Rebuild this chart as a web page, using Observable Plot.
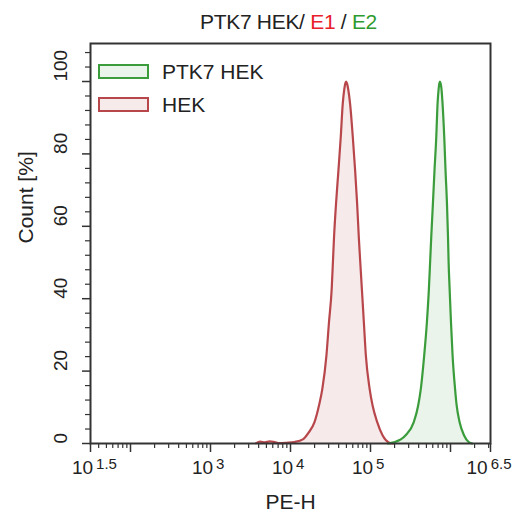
<!DOCTYPE html>
<html>
<head>
<meta charset="utf-8">
<script src="https://cdn.jsdelivr.net/npm/d3@7"></script>
<script src="https://cdn.jsdelivr.net/npm/@observablehq/plot@0.6"></script>
<style>
  body { margin: 0; background: #fff; font-family: "Liberation Sans", Arial, sans-serif; }
  #wrap { position: relative; width: 517px; height: 521px; overflow: hidden; }
  #title { position: absolute; left: 60px; right: 0; top: 0; text-align: center; font-size: 21px; line-height: 44px; color: #222; white-space: pre; letter-spacing: -0.3px; }
  .leg { position: absolute; left: 98px; height: 15px; display: flex; align-items: center; font-size: 21px; color: #222; white-space: pre; }
  .sw { width: 47px; height: 11px; border: 2px solid; margin-right: 13px; }
</style>
</head>
<body>
<div id="wrap">
  <div id="chart"></div>
  <div id="title"></div>
  <div id="legend"></div>
</div>
<script>
// ---- data ----
const titleParts = ["PTK7 HEK/ ", "E1", " / ", "E2"];
const seriesNames = ["PTK7 HEK", "HEK"];

// HEK (red): log10(PE-H) and Count [%]
const hekLog   = [3.57, 3.62, 3.68, 3.74, 3.80, 3.86, 3.95, 4.05, 4.16, 4.22, 4.30, 4.356, 4.398, 4.449, 4.481, 4.515, 4.531, 4.544, 4.569, 4.599, 4.628, 4.653, 4.672, 4.684, 4.695, 4.707, 4.722, 4.745, 4.779, 4.808, 4.833, 4.854, 4.871, 4.892, 4.917, 4.942, 4.989, 5.026, 5.084, 5.152, 5.227, 5.28];
const hekCount = [0.1, 0.5, 0.3, 0.6, 0.4, 0.1, 0.2, 0.4, 1.2, 2.8, 5.9, 10.5, 15.1, 24.3, 33.5, 42.7, 50.5, 56.9, 66.2, 75.4, 84.6, 93.8, 97.8, 99.4, 100, 99.4, 97.8, 93.8, 84.6, 75.4, 66.2, 56.9, 50.5, 42.7, 33.5, 24.3, 15.1, 10.5, 5.9, 2.2, 0.3, 0];

// PTK7 HEK (green)
const ptkLog   = [5.22, 5.29, 5.436, 5.541, 5.596, 5.629, 5.671, 5.705, 5.730, 5.746, 5.759, 5.780, 5.800, 5.822, 5.838, 5.852, 5.861, 5.868, 5.876, 5.887, 5.901, 5.922, 5.938, 5.956, 5.969, 5.976, 5.989, 6.006, 6.026, 6.057, 6.077, 6.114, 6.170, 6.232, 6.27];
const ptkCount = [0, 0.3, 2.2, 5.9, 10.5, 15.1, 24.3, 33.5, 42.7, 50.5, 56.9, 66.2, 75.4, 84.6, 93.8, 98.0, 99.5, 100, 99.5, 98.0, 93.8, 84.6, 75.4, 66.2, 56.9, 50.5, 42.7, 33.5, 24.3, 15.1, 10.5, 5.9, 2.2, 0.3, 0];

const yMajorTicks = [0, 20, 40, 60, 80, 100];
const yMinorTicks = [4, 8, 12, 16, 24, 28, 32, 36, 44, 48, 52, 56, 64, 68, 72, 76, 84, 88, 92, 96, 104, 108];
const xMajorExps  = [1.5, 2, 3, 4, 5, 6, 6.5];
const xLabelExps  = [1.5, 3, 4, 5, 6.5];
const xLabelTexts = ["1.5", "3", "4", "5", "6.5"];
const xMinorMultipliers = [2, 3, 4, 5, 6, 7, 8, 9];
const xDecades = [1, 2, 3, 4, 5, 6];

// ---- styles ----
const redStroke = "#b8474c", redFill = "#f7eaea";
const greenStroke = "#3a9c3a", greenFill = "#eaf4ea";
const axisColor = "#333";
const seriesStroke = [greenStroke, redStroke];
const seriesFill = [greenFill, redFill];

// ---- build ----
const xDomain = [10 ** 1.5, 10 ** 6.5];
const hek = hekLog.map((l, i) => ({x: 10 ** l, y: hekCount[i]}));
const ptk = ptkLog.map((l, i) => ({x: 10 ** l, y: ptkCount[i]}));
const xMajor = xMajorExps.map(e => 10 ** e);
const xMinor = xDecades.flatMap(d => xMinorMultipliers.map(m => m * 10 ** d))
  .filter(v => v > xDomain[0] && v < xDomain[1]);

const baseFont = 19, expFont = 15;
const charW = c => (c === "." ? 0.278 : 0.556);
const labelMarks = xLabelExps.flatMap((e, i) => {
  const baseW = 1.112 * baseFont;
  const expW = [...xLabelTexts[i]].reduce((s, c) => s + charW(c) * expFont, 0) + 2;
  let left = -8 - baseW / 2;                  // "10" centred a little left of the tick
  const tickPx = 90 + (e - 1.5) * 80;
  const over = tickPx + left + baseW + 3 + expW - 513;   // keep the last label inside the page
  if (over > 0) left -= over;
  return [
    Plot.text([e], {x: d => 10 ** d, text: () => "10", frameAnchor: "bottom", textAnchor: "start",
      dx: left, dy: 30.5, fontSize: baseFont, fill: "#222"}),
    Plot.text([e], {x: d => 10 ** d, text: () => xLabelTexts[i], frameAnchor: "bottom", textAnchor: "start",
      dx: left + baseW + 3, dy: 25.5, fontSize: expFont, fill: "#222"})
  ];
});

const chart = Plot.plot({
  width: 517,
  height: 521,
  marginLeft: 90,
  marginRight: 27,
  marginTop: 43,
  marginBottom: 78,
  x: {type: "log", domain: xDomain},
  y: {domain: [0, 110.5]},
  style: {fontFamily: "'Liberation Sans', Arial, sans-serif", background: "transparent", color: "#222"},
  marks: [
    Plot.areaY(hek, {x: "x", y: "y", fill: redFill, curve: "monotone-x"}),
    Plot.areaY(ptk, {x: "x", y: "y", fill: greenFill, curve: "monotone-x"}),
    Plot.lineY(hek, {x: "x", y: "y", stroke: redStroke, strokeWidth: 2.2, curve: "monotone-x"}),
    Plot.lineY(ptk, {x: "x", y: "y", stroke: greenStroke, strokeWidth: 2.2, curve: "monotone-x"}),
    Plot.axisX({ticks: xMajor, tickSize: 9, tickFormat: () => "", stroke: axisColor, strokeWidth: 1.5, label: null}),
    Plot.axisX({ticks: xMinor, tickSize: 5, tickFormat: () => "", stroke: axisColor, strokeWidth: 1.2, label: null}),
    Plot.axisY({ticks: yMajorTicks, tickSize: 8, tickFormat: () => "", stroke: axisColor, strokeWidth: 1.5, label: null}),
    Plot.axisY({ticks: yMinorTicks, tickSize: 5, tickFormat: () => "", stroke: axisColor, strokeWidth: 1.2, label: null}),
    Plot.frame({stroke: axisColor, strokeWidth: 2}),
    Plot.text(yMajorTicks, {y: d => d, text: d => String(d), frameAnchor: "left", dx: -30, rotate: -90,
      fontSize: baseFont, fill: "#222"}),
    ...labelMarks,
    Plot.text(["Count [%]"], {text: d => d, frameAnchor: "left", dx: -64, rotate: -90, fontSize: 21,
      fill: "#222", letterSpacing: "0.8px"}),
    Plot.text(["PE-H"], {text: d => d, frameAnchor: "bottom", dy: 65, fontSize: 21, fill: "#222"})
  ]
});
document.getElementById("chart").appendChild(chart);

// title
const titleColors = ["#222", "#e8202a", "#222", "#2e9a2e"];
const titleEl = document.getElementById("title");
titleParts.forEach((t, i) => {
  const s = document.createElement("span");
  s.textContent = t;
  s.style.color = titleColors[i];
  titleEl.appendChild(s);
});

// legend
const legendTops = [64, 97];
const legendEl = document.getElementById("legend");
seriesNames.forEach((name, i) => {
  const row = document.createElement("div");
  row.className = "leg";
  row.style.top = legendTops[i] + "px";
  const sw = document.createElement("span");
  sw.className = "sw";
  sw.style.borderColor = seriesStroke[i];
  sw.style.background = seriesFill[i];
  row.appendChild(sw);
  row.appendChild(document.createTextNode(name));
  legendEl.appendChild(row);
});
</script>
</body>
</html>
